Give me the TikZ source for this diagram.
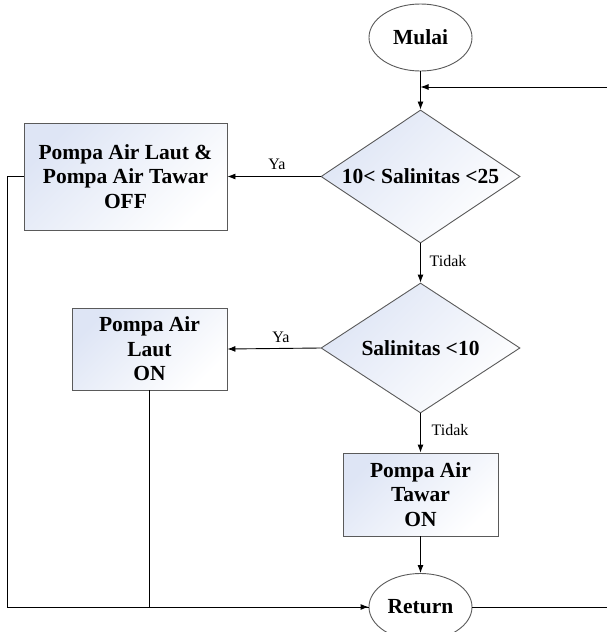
\documentclass[tikz,border=0pt]{standalone}
\usepackage{fontspec}
\setmainfont{Liberation Serif}
\usetikzlibrary{shapes.geometric,arrows.meta}
\definecolor{gradc}{RGB}{222,229,245}
\definecolor{edgec}{RGB}{90,90,90}
\begin{document}
\begin{tikzpicture}[x=1pt,y=-1pt,
  bigtxt/.style={font=\fontsize{21.5}{24.5}\selectfont\bfseries, align=center, inner sep=0},
  smalltxt/.style={font=\fontsize{16}{18}\selectfont, inner sep=0},
  procbox/.style={draw=edgec, line width=0.9pt, top color=gradc, bottom color=white, shading angle=45, inner sep=0},
  decis/.style={diamond, draw=edgec, line width=0.9pt, top color=gradc, bottom color=white, shading angle=45, inner sep=0},
  term/.style={ellipse, draw=edgec, line width=0.9pt, fill=white, inner sep=0},
  arr/.style={line width=0.9pt, -{Latex[length=8pt,width=6pt]}},
  ln/.style={line width=0.9pt}]
\useasboundingbox (0,0) rectangle (607,632);
\clip (0,0) rectangle (607,632);
% terminals
\node[term, minimum width=103, minimum height=67] (mulai) at (420.5,37.5) {};
\node[bigtxt] at (mulai) {Mulai};
\node[term, minimum width=103, minimum height=67] (ret) at (420.5,607) {};
\node[bigtxt] at (ret) {Return};
% decisions
\node[decis, minimum width=199, minimum height=133] (d1) at (420.5,176.5) {};
\node[bigtxt] at (d1) {10< Salinitas <25};
\node[decis, minimum width=199, minimum height=130] (d2) at (420.5,348) {};
\node[bigtxt] at (d2) {Salinitas <10};
% process boxes
\node[procbox, minimum width=203, minimum height=107] (b1) at (125.5,176.5) {};
\node[bigtxt] at (b1) {Pompa Air Laut \&\\Pompa Air Tawar\\OFF};
\node[procbox, minimum width=155, minimum height=82] (b2) at (149.5,349) {};
\node[bigtxt] at (b2) {Pompa Air\\Laut\\ON};
\node[procbox, minimum width=155, minimum height=83] (b3) at (420.5,494.5) {};
\node[bigtxt] at (b3) {Pompa Air\\Tawar\\ON};
% connectors
\coordinate (fb) at (607,87);
\coordinate (lx) at (7,176.5);
\coordinate (rx) at (607,607);
\draw[arr] (mulai) -- (d1);
\draw[arr] (fb) -- (fb -| mulai);
\draw[arr] (d1.west) -- (b1.east);
\node[smalltxt] at (277,164) {Ya};
\draw[arr] (d1.south) -- (d2.north);
\node[smalltxt] at (448,261) {Tidak};
\draw[arr] (d2.west) -- (b2.east);
\node[smalltxt] at (281,337) {Ya};
\draw[arr] (d2.south) -- (b3.north);
\node[smalltxt] at (450,430) {Tidak};
\draw[arr] (b3.south) -- (ret.north);
\draw[arr] (b1.west) -- (lx) |- (ret.west);
\draw[ln] (b2.south) |- (ret.west);
\draw[ln] (ret.east) -- (rx);
\end{tikzpicture}
\end{document}
